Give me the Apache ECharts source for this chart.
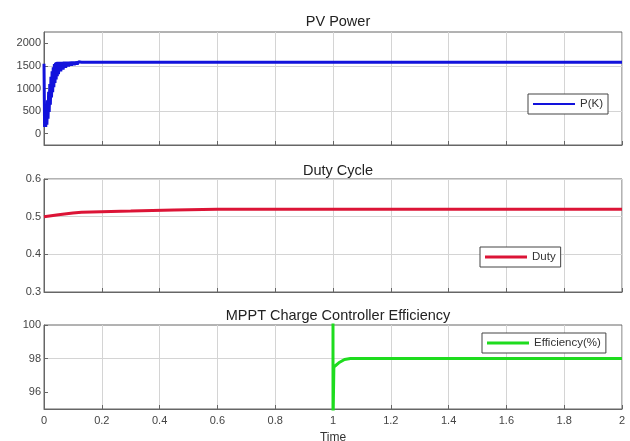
<!DOCTYPE html>
<html>
<head>
<meta charset="utf-8">
<script src="https://cdn.jsdelivr.net/npm/echarts@6/dist/echarts.min.js"></script>
<style>
  html, body { margin: 0; padding: 0; background: #fff; }
  #chart { width: 630px; height: 441px; }
</style>
</head>
<body>
<div id="chart"></div>
<script>
// PV power: start transient (oscillating band) then flat
const pTime = [0, 0.002, 0.004, 0.006, 0.008, 0.010, 0.012, 0.014, 0.016, 0.018, 0.020, 0.022, 0.024, 0.026,
    0.028, 0.030, 0.032, 0.034, 0.036, 0.038, 0.040, 0.042, 0.044, 0.046, 0.048, 0.050, 0.054, 0.058,
    0.062, 0.066, 0.070, 0.075, 0.080, 0.085, 0.090, 0.095, 0.100, 0.105, 0.110, 0.115, 0.120, 0.125,
    0.130, 0.2, 0.5, 1.0, 1.5, 2.0];
const pValue = [1550, 150, 330, 150, 550, 200, 740, 330, 930, 480, 1100, 640, 1260, 800,
    1380, 920, 1470, 1030, 1540, 1120, 1570, 1200, 1585, 1270, 1590, 1320, 1590, 1380,
    1590, 1420, 1590, 1460, 1590, 1490, 1590, 1510, 1590, 1520, 1590, 1535, 1590, 1550,
    1580, 1580, 1580, 1580, 1580, 1580];
const pTicks = [0, 500, 1000, 1500, 2000];

const dutyTime = [0, 0.05, 0.1, 0.13, 0.3, 0.45, 0.6, 1.0, 1.5, 2.0];
const dutyValue = [0.500, 0.505, 0.510, 0.512, 0.515, 0.518, 0.520, 0.520, 0.520, 0.520];

const effTime = [1.0, 1.0, 1.003, 1.02, 1.04, 1.06, 1.5, 2.0];
const effValue = [101, 94, 97.5, 97.75, 97.95, 98.0, 98.0, 98.0];
const effTicks = [96, 98, 100];

const titles = ["PV Power", "Duty Cycle", "MPPT Charge Controller Efficiency"];
const seriesNames = ["P(K)", "Duty", "Efficiency(%)"];

function zip(xs, ys) {
    return xs.map(function (x, i) { return [x, ys[i]]; });
}

const font = "'Liberation Sans', Arial, sans-serif";
const labelColor = "#444";
const gridColor = "#d4d4d4";
const boxColor = "#666";

const grids = [
    { left: 44, top: 32, width: 578, height: 113 },
    { left: 44, top: 179, width: 578, height: 113 },
    { left: 44, top: 325, width: 578, height: 84 }
];

function makeX(idx) {
    return {
        type: "value",
        gridIndex: idx,
        min: 0,
        max: 2,
        interval: 0.2,
        name: idx === 2 ? "Time" : "",
        nameLocation: "middle",
        nameGap: 23,
        nameTextStyle: { color: "#333", fontSize: 12, fontFamily: font },
        axisLine: { show: true, onZero: false, lineStyle: { color: boxColor } },
        axisTick: { show: true, inside: true, length: 4, lineStyle: { color: boxColor } },
        axisLabel: {
            show: idx === 2,
            color: labelColor,
            fontSize: 11,
            fontFamily: font,
            margin: 6,
            formatter: function (v) { return String(Math.round(v * 10) / 10); }
        },
        splitLine: { show: true, lineStyle: { color: gridColor } }
    };
}

function makeY(idx, min, max, interval, ticks, gridColors) {
    const axis = {
        type: "value",
        gridIndex: idx,
        min: min,
        max: max,
        interval: interval,
        axisLine: { show: true, lineStyle: { color: boxColor } },
        axisTick: { show: true, inside: true, length: 4, lineStyle: { color: boxColor } },
        axisLabel: {
            color: labelColor,
            fontSize: 11,
            fontFamily: font,
            margin: 3,
            formatter: function (v) { return String(Math.round(v * 1000) / 1000); }
        },
        splitLine: { show: true, lineStyle: { color: gridColors } }
    };
    if (ticks) {
        axis.axisTick.customValues = ticks;
        axis.axisLabel.customValues = ticks;
    }
    return axis;
}

function makeLegend(name, left, top) {
    return {
        data: [name],
        left: left,
        top: top,
        orient: "horizontal",
        icon: "rect",
        itemWidth: 42,
        itemHeight: name === "P(K)" ? 2 : 3,
        padding: [4, 5],
        borderColor: "#444",
        borderWidth: 1,
        borderRadius: 0,
        backgroundColor: "#fff",
        textStyle: { color: "#333", fontSize: 11.5, fontFamily: font }
    };
}

function makeTitle(text, top) {
    return {
        text: text,
        left: 333,
        textAlign: "center",
        top: top,
        textStyle: { fontSize: 14.5, fontWeight: "normal", color: "#222", fontFamily: font }
    };
}

const chart = echarts.init(document.getElementById("chart"), null, { renderer: "canvas" });

const option = {
    animation: false,
    backgroundColor: "#fff",
    title: [
        makeTitle(titles[0], 9),
        makeTitle(titles[1], 158),
        makeTitle(titles[2], 303)
    ],
    grid: grids.map(function (g) {
        return Object.assign({
            show: true,
            borderColor: boxColor,
            borderWidth: 1,
            backgroundColor: "#fff",
            containLabel: false,
            outerBoundsMode: "none"
        }, g);
    }),
    xAxis: [makeX(0), makeX(1), makeX(2)],
    yAxis: [
        makeY(0, -250, 2250, 250, pTicks, ["transparent", gridColor]),
        makeY(1, 0.3, 0.6, 0.1, null, [gridColor]),
        makeY(2, 95, 100, 1, effTicks, ["transparent", gridColor])
    ],
    legend: [
        makeLegend(seriesNames[0], 528, 94),
        makeLegend(seriesNames[1], 480, 247),
        makeLegend(seriesNames[2], 482, 333)
    ],
    series: [
        {
            name: seriesNames[0],
            type: "line",
            xAxisIndex: 0,
            yAxisIndex: 0,
            data: zip(pTime, pValue),
            symbol: "none",
            clip: true,
            lineStyle: { color: "#1212dc", width: 3 },
            itemStyle: { color: "#1212dc" }
        },
        {
            name: seriesNames[1],
            type: "line",
            xAxisIndex: 1,
            yAxisIndex: 1,
            data: zip(dutyTime, dutyValue),
            symbol: "none",
            clip: true,
            lineStyle: { color: "#dc1436", width: 3 },
            itemStyle: { color: "#dc1436" }
        },
        {
            name: seriesNames[2],
            type: "line",
            xAxisIndex: 2,
            yAxisIndex: 2,
            data: zip(effTime, effValue),
            symbol: "none",
            clip: true,
            lineStyle: { color: "#1edc1e", width: 3 },
            itemStyle: { color: "#1edc1e" }
        }
    ]
};

chart.setOption(option, true);
</script>
</body>
</html>
